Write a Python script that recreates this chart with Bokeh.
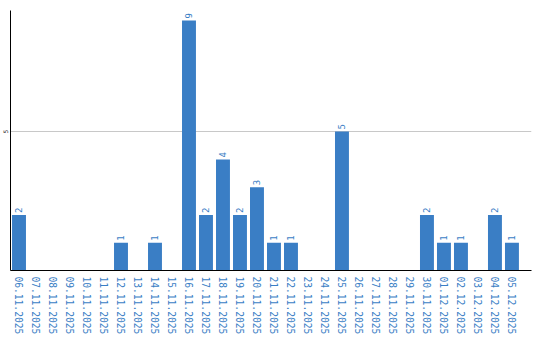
import math
from bokeh.plotting import figure
from bokeh.models import Range1d, FixedTicker, ColumnDataSource
from bokeh.core.properties import value
from bokeh.embed import file_html
from bokeh.resources import INLINE

dates = ["06.11.2025", "07.11.2025", "08.11.2025", "09.11.2025", "10.11.2025",
         "11.11.2025", "12.11.2025", "13.11.2025", "14.11.2025", "15.11.2025",
         "16.11.2025", "17.11.2025", "18.11.2025", "19.11.2025", "20.11.2025",
         "21.11.2025", "22.11.2025", "23.11.2025", "24.11.2025", "25.11.2025",
         "26.11.2025", "27.11.2025", "28.11.2025", "29.11.2025", "30.11.2025",
         "01.12.2025", "02.12.2025", "03.12.2025", "04.12.2025", "05.12.2025"]
counts = [2, 0, 0, 0, 0, 0, 1, 0, 1, 0,
          9, 2, 4, 2, 3, 1, 1, 0, 0, 5,
          0, 0, 0, 0, 2, 1, 1, 0, 2, 1]
y_ticks = [5]

BLUE = "#3a7ec5"
xs = [i + 0.5 for i in range(len(dates))]

p = figure(width=540, height=340, output_backend="svg", toolbar_location=None,
           x_range=Range1d(0, 30.65), y_range=Range1d(0, 9.36),
           min_border_left=10, min_border_right=9, min_border_top=10, min_border_bottom=70)
p.outline_line_color = None
p.background_fill_color = "white"
p.border_fill_color = "white"

src = ColumnDataSource(dict(x=xs, top=counts))
p.vbar(x="x", top="top", width=0.82, bottom=0, source=src, fill_color=BLUE, line_color=None)

lab_x = [x for x, c in zip(xs, counts) if c > 0]
lab_y = [c for c in counts if c > 0]
lab_t = [str(c) for c in counts if c > 0]
p.text(x=lab_x, y=lab_y, text=lab_t, angle=math.pi / 2, text_align="left",
       text_baseline="middle", text_color=BLUE, text_font=value("DejaVu Sans Mono"),
       text_font_size="9px", y_offset=-2)

# x axis
xa = p.xaxis[0]
xa.ticker = FixedTicker(ticks=xs)
xa.major_label_overrides = {x: d for x, d in zip(xs, dates)}
xa.major_label_orientation = "vertical"
xa.major_label_text_color = BLUE
xa.major_label_text_font = "DejaVu Sans Mono"
xa.major_label_text_font_size = "9.6px"
xa.major_label_standoff = 6
xa.major_tick_out = 0
xa.major_tick_in = 0
xa.minor_tick_out = 0
xa.minor_tick_in = 0
xa.axis_line_color = "black"
xa.axis_line_width = 1

ya = p.yaxis[0]
ya.ticker = FixedTicker(ticks=y_ticks)
ya.major_label_orientation = "vertical"
ya.major_label_text_color = "black"
ya.major_label_text_font = "DejaVu Sans"
ya.major_label_text_font_size = "6px"
ya.major_label_standoff = 2
ya.major_tick_out = 0
ya.major_tick_in = 0
ya.minor_tick_out = 0
ya.minor_tick_in = 0
ya.axis_line_color = "black"
ya.axis_line_width = 1

p.xgrid.visible = False
p.ygrid.ticker = FixedTicker(ticks=y_ticks)
p.ygrid.grid_line_color = "#c8c8c8"
p.ygrid.grid_line_width = 1

open("out.html", "w").write(file_html(p, INLINE))
